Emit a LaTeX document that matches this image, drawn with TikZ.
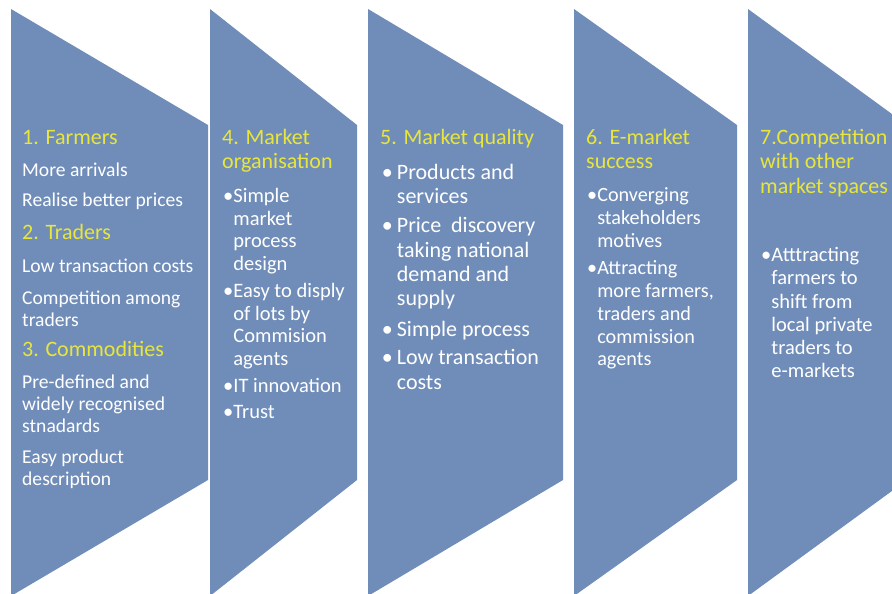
\documentclass[tikz,border=0pt]{standalone}
\usepackage{fontspec}
\setmainfont{Carlito}
\definecolor{chevblue}{RGB}{112,141,185}
\definecolor{headyellow}{RGB}{232,230,60}
\tikzset{
	chev/.style={fill=chevblue},
	head/.style={anchor=base west, inner sep=0pt, text=headyellow, font=\fontsize{22}{24.5}\selectfont},
	body/.style={anchor=base west, inner sep=0pt, text=white},
}
\newcommand{\stack}[1]{\begin{tabular}[t]{@{}l@{}}#1\end{tabular}}
\newcommand{\blt}{\textbullet}
\newcommand{\ind}{\hphantom{\textbullet}}
\newcommand{\bltw}{\makebox[15pt][l]{\textbullet}}
\newcommand{\indw}{\hspace*{15pt}}
\begin{document}
\begin{tikzpicture}[x=1pt,y=-1pt]
		\useasboundingbox (0,0) rectangle (892,594);
		\clip (0,0) rectangle (892,594);
		\fill[chev] (11,9) -- (208,125) -- (208,480) -- (11,596) -- cycle;
		\fill[chev] (210,9) -- (357,125) -- (357,480) -- (210,596) -- cycle;
		\fill[chev] (368,9) -- (563,125) -- (563,480) -- (368,596) -- cycle;
		\fill[chev] (574,9) -- (737,125) -- (737,480) -- (574,596) -- cycle;
		\fill[chev] (748,9) -- (907,125) -- (907,480) -- (748,596) -- cycle;
		\node[head] (h1) at (22,144) {1. Farmers};
		\node[body, font=\fontsize{19.6}{22}\selectfont] (b1) at (22,176) {\stack{More arrivals\\[8pt]Realise better prices}};
		\node[head] (h2) at (22,239) {2. Traders};
		\node[body, font=\fontsize{19.6}{22}\selectfont] (b2) at (22,272) {\stack{Low transaction costs\\[10pt]Competition among\\traders}};
		\node[head] (h3) at (22,356) {3. Commodities};
		\node[body, font=\fontsize{19.6}{22}\selectfont] (b3) at (22,388) {\stack{Pre-defined and\\widely recognised\\stnadards\\[9pt]Easy product\\description}};
		\node[head] (h4) at (222,144) {\stack{4. Market\\organisation}};
		\node[body, font=\fontsize{20.5}{22.5}\selectfont] (b4) at (223,202.7) {\stack{\blt Simple\\\ind market\\\ind process\\\ind design\\[5pt]\blt Easy to disply\\\ind of lots by\\\ind Commision\\\ind agents\\[4.5pt]\blt IT innovation\\[4pt]\blt Trust}};
		\node[head] (h5) at (380,144) {5. Market quality};
		\node[body, font=\fontsize{22}{24.3}\selectfont] (b5) at (381.7,179.3) {\stack{\bltw Products and\\\indw services\\[5pt]\bltw Price~~discovery\\\indw taking national\\\indw demand and\\\indw supply\\[6pt]\bltw Simple process\\[4.5pt]\bltw Low transaction\\\indw costs}};
		\node[head] (h6) at (586,144) {\stack{6. E-market\\success}};
		\node[body, font=\fontsize{20.2}{22.8}\selectfont] (b6) at (587,201.7) {\stack{\blt Converging\\\ind stakeholders\\\ind motives\\[4.5pt]\blt Attracting\\\ind more farmers,\\\ind traders and\\\ind commission\\\ind agents}};
		\node[head] (h7) at (760,144) {\stack{7.Competition\\with other\\market spaces}};
		\node[body, font=\fontsize{20.5}{23.2}\selectfont] (b7) at (761,261.7) {\stack{\blt Atttracting\\\ind farmers to\\\ind shift from\\\ind local private\\\ind traders to\\\ind e-markets}};
	\end{tikzpicture}
\end{document}
